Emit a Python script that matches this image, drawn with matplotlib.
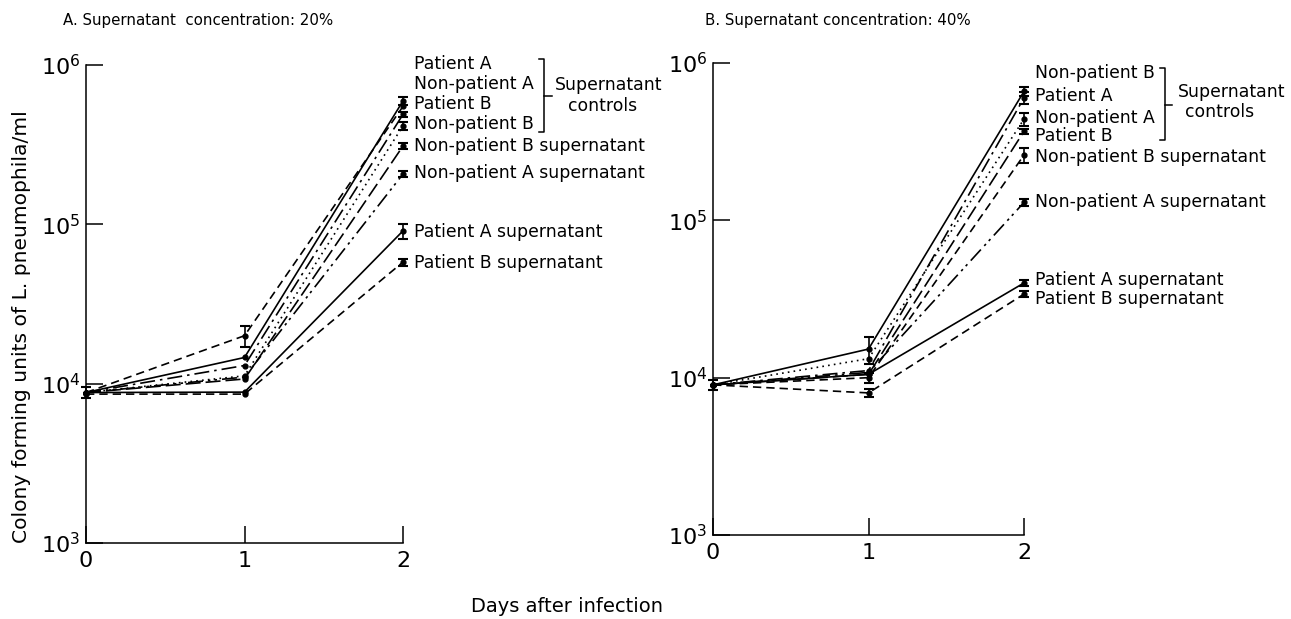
import numpy as np
import matplotlib
matplotlib.use("Agg")
import matplotlib.pyplot as plt
from matplotlib.lines import Line2D

plt.rcParams['font.family'] = ['DejaVu Sans']

# --- data ---
days = [0, 1, 2]

labels_a = ['Patient A', 'Non-patient A', 'Patient B', 'Non-patient B',
            'Non-patient B supernatant', 'Non-patient A supernatant',
            'Patient A supernatant', 'Patient B supernatant']
cfu_a = [
    [8.8e3, 1.46e4, 5.95e5],
    [8.8e3, 2.0e4, 5.5e5],
    [8.8e3, 1.30e4, 4.9e5],
    [8.8e3, 1.12e4, 4.15e5],
    [8.8e3, 1.07e4, 3.1e5],
    [8.8e3, 1.10e4, 2.07e5],
    [8.8e3, 8.85e3, 9.1e4],
    [8.6e3, 8.6e3, 5.8e4],
]
err_a = [
    [0, 0, 3.5e4],
    [0, 3.0e3, 0],
    [0, 0, 2.0e4],
    [7e2, 0, 2.5e4],
    [0, 0, 1.2e4],
    [0, 0, 8.0e3],
    [0, 0, 1.0e4],
    [0, 0, 3.0e3],
]
label_y_a = [1.01e6, 7.6e5, 5.7e5, 4.27e5, 3.1e5, 2.1e5, 8.96e4, 5.7e4]

labels_b = ['Non-patient B', 'Patient A', 'Non-patient A', 'Patient B',
            'Non-patient B supernatant', 'Non-patient A supernatant',
            'Patient A supernatant', 'Patient B supernatant']
cfu_b = [
    [9.0e3, 1.52e4, 6.6e5],
    [9.0e3, 1.11e4, 6.0e5],
    [9.0e3, 1.32e4, 4.4e5],
    [9.0e3, 1.05e4, 3.68e5],
    [9.0e3, 1.0e4, 2.6e5],
    [9.0e3, 1.08e4, 1.3e5],
    [9.0e3, 1.05e4, 4.0e4],
    [9.0e3, 8.0e3, 3.4e4],
]
err_b = [
    [0, 3.0e3, 4.0e4],
    [0, 0, 5.0e4],
    [0, 0, 4.0e4],
    [0, 0, 1.5e4],
    [0, 7e2, 3.0e4],
    [0, 0, 6.0e3],
    [7e2, 0, 2.0e3],
    [0, 5e2, 1.5e3],
]
label_y_b = [8.65e5, 6.2e5, 4.5e5, 3.46e5, 2.51e5, 1.31e5, 4.2e4, 3.18e4]

# line styles (solid, dashed, dash-dot, dotted, ...)
solid = '-'
dashed = (0, (5, 3))
longdash = (0, (9, 3))
dashdot = (0, (9, 3, 1.5, 3))
dashdotdot = (0, (9, 3, 1.5, 2.5, 1.5, 3))
dotted = (0, (1, 2.5))

styles_a = [solid, dashed, dashdot, dotted, longdash, dashdotdot, solid, dashed]
styles_b = [solid, dashdot, dotted, longdash, dashed, dashdotdot, solid, dashed]

fig = plt.figure(figsize=(12.91, 6.19), dpi=100)
ax_a = fig.add_axes([86 / 1291, 1 - 543 / 619, 317 / 1291, 478 / 619])
ax_b = fig.add_axes([713 / 1291, 1 - 535 / 619, 311 / 1291, 472 / 619])


def draw_panel(ax, cfu, err, styles, labels, label_y):
    for vals, e, ls in zip(cfu, err, styles):
        ax.plot(days, vals, color='black', linestyle=ls, linewidth=1.2,
                marker='o', markersize=3.5, clip_on=False)
        e = np.array(e)
        mask = e > 0
        if mask.any():
            ax.errorbar(np.array(days)[mask], np.array(vals)[mask], yerr=e[mask],
                        fmt='none', ecolor='black', elinewidth=1.2,
                        capsize=3.5, capthick=1.5, clip_on=False)
    for lab, ly in zip(labels, label_y):
        ax.annotate(lab, xy=(2, ly), xytext=(8, 0), textcoords='offset points',
                    ha='left', va='center', fontsize=12.4, annotation_clip=False)

    ax.set_yscale('log')
    ax.set_xlim(0, 2)
    ax.set_ylim(1e3, 1e6)
    ax.set_xticks([0, 1, 2])
    ax.set_xticklabels(['0', '1', '2'], fontsize=16)
    ax.set_yticks([1e3, 1e4, 1e5, 1e6])
    ax.set_yticklabels(['10$^3$', '10$^4$', '10$^5$', '10$^6$'], fontsize=16)
    ax.yaxis.set_minor_locator(matplotlib.ticker.NullLocator())
    ax.tick_params(direction='in', length=12, width=1.1, pad=4)
    ax.tick_params(axis='x', pad=6)
    for s in ['top', 'right']:
        ax.spines[s].set_visible(False)
    for s in ['left', 'bottom']:
        ax.spines[s].set_linewidth(1.1)


draw_panel(ax_a, cfu_a, err_a, styles_a, labels_a, label_y_a)
draw_panel(ax_b, cfu_b, err_b, styles_b, labels_b, label_y_b)


def bracket(ax, x, top, bottom, mid, text_x, sup_y, ctrl_x, ctrl_y):
    kw = dict(transform=ax.transAxes, color='black', linewidth=1.1, clip_on=False)
    ax.add_line(Line2D([x - 0.016, x, x, x - 0.016], [top, top, bottom, bottom], **kw))
    ax.add_line(Line2D([x, x + 0.025], [mid, mid], **kw))
    ax.text(text_x, sup_y, 'Supernatant', transform=ax.transAxes,
            ha='left', va='center', fontsize=12.4)
    ax.text(ctrl_x, ctrl_y, 'controls', transform=ax.transAxes,
            ha='center', va='center', fontsize=12.4)


bracket(ax_a, 1.445, 1.012, 0.860, 0.935, 1.478, 0.958, 1.628, 0.914)
bracket(ax_b, 1.452, 0.989, 0.837, 0.911, 1.495, 0.938, 1.628, 0.896)

fig.text(63 / 1291, 1 - 20 / 619, 'A. Supernatant  concentration: 20%',
         ha='left', va='center', fontsize=10.8)
fig.text(705 / 1291, 1 - 20 / 619, 'B. Supernatant concentration: 40%',
         ha='left', va='center', fontsize=10.8)
fig.text(22 / 1291, 1 - 327 / 619, 'Colony forming units of L. pneumophila/ml',
         rotation=90, ha='center', va='center', fontsize=14.6)
fig.text(567 / 1291, 1 - 606 / 619, 'Days after infection',
         ha='center', va='center', fontsize=14)

fig.savefig('out.png', dpi=100)
